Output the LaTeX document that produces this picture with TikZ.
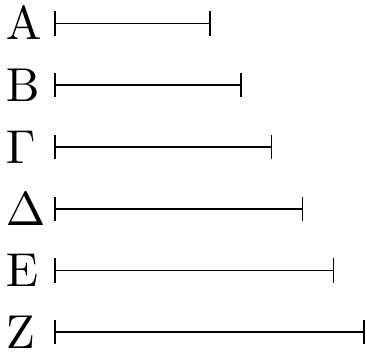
\documentclass[tikz,border=0pt]{standalone}

\tikzset{every picture/.append style={scale=1}}
\tikzset{letter/.style={anchor=west, inner sep=0pt, font=\fontsize{10.95}{13.6}\selectfont},
  bar/.style={|-|, shorten >=-0.45pt}}

\begin{document}
\begin{tikzpicture}
  \useasboundingbox (-0.44,0.19) rectangle (2.515,-2.655);
  \node[letter] (la) at(-0.40, 0.0){$\mathrm{A}$};
  \node[letter] (lb) at(-0.40,-0.5){$\mathrm{B}$};
  \node[letter] (lg) at(-0.40,-1.0){$\Gamma$};
  \node[letter] (ld) at(-0.40,-1.5){$\Delta$};
  \node[letter] (le) at(-0.40,-2.0){$\mathrm{E}$};
  \node[letter] (lz) at(-0.40,-2.5){$\mathrm{Z}$};
  \coordinate (a0) at(0, 0.0); \coordinate (a1) at(1.25, 0.0);
  \coordinate (b0) at(0,-0.5); \coordinate (b1) at(1.50,-0.5);
  \coordinate (g0) at(0,-1.0); \coordinate (g1) at(1.75,-1.0);
  \coordinate (d0) at(0,-1.5); \coordinate (d1) at(2.00,-1.5);
  \coordinate (e0) at(0,-2.0); \coordinate (e1) at(2.25,-2.0);
  \coordinate (z0) at(0,-2.5); \coordinate (z1) at(2.50,-2.5);
  \draw[bar] (a0) -- (a1);
  \draw[bar] (b0) -- (b1);
  \draw[bar] (g0) -- (g1);
  \draw[bar] (d0) -- (d1);
  \draw[bar] (e0) -- (e1);
  \draw[bar] (z0) -- (z1);
\end{tikzpicture}
\end{document}
